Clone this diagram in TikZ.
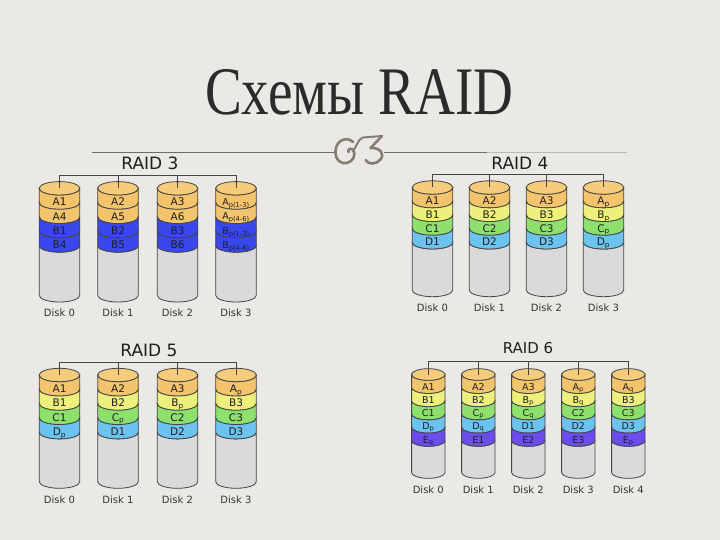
\documentclass[tikz,border=0pt]{standalone}
\usepackage{fontspec}
\setmainfont{DejaVu Sans}
\newfontfamily\titlefont{Liberation Serif}
\usepackage{graphicx}
\definecolor{bgc}{HTML}{EAE9E5}
\definecolor{bge}{HTML}{DDDBD6}
\definecolor{bgk}{HTML}{CCCAC4}
\definecolor{orA}{HTML}{F4C46C}
\definecolor{capc}{HTML}{F6CB7A}
\definecolor{blB}{HTML}{3847EE}
\definecolor{yeB}{HTML}{EEF07C}
\definecolor{grC}{HTML}{8EE06C}
\definecolor{ltD}{HTML}{6CC3EF}
\definecolor{puE}{HTML}{6B4DEE}
\definecolor{bodyc}{HTML}{DADADA}
\definecolor{dlc}{HTML}{454545}
\definecolor{ornc}{HTML}{857D72}
\definecolor{tlc}{HTML}{2B2B2B}
\pgfdeclareradialshading{vig}{\pgfpoint{0bp}{0bp}}{color(0bp)=(bgc); color(45bp)=(bgc); color(50bp)=(bge); color(72bp)=(bgk)}
\newcommand\ps[1]{\textsubscript{#1}}
\def\bfs{10.5}
\tikzset{
  dline/.style={draw=dlc,line width=0.8pt},
  conn/.style={draw=dlc,line width=0.8pt},
  blab/.style={inner sep=0pt,font=\fontsize{\bfs}{\bfs}\selectfont,text=black!88,text height=0.72*\bfs pt,text depth=0pt},
  dlab/.style={inner sep=0pt,font=\fontsize{10}{10}\selectfont,text=black!80},
  ptitle/.style={inner sep=0pt,font=\fontsize{17}{17}\selectfont,text=black!88},
  orn/.style={draw=ornc,line width=2.6pt,line cap=round,line join=round},
  tline/.style={draw=gray!85!black,line width=1.1pt}
}
\newcommand\rdisk[4]{%
 \def\nb{0}%
 \foreach \cc/\ll [count=\ii] in {#4}{\xdef\nb{\ii}}%
 \pgfmathsetmacro\ybody{\ryz+\nb*\rh}%
 \draw[dline,fill=bodyc] (#2-\ra,-\ybody) -- (#2-\ra,-\ryb) arc[start angle=180,end angle=360,x radius=\ra,y radius=\rb] -- (#2+\ra,-\ybody) arc[start angle=0,end angle=-180,x radius=\ra,y radius=\rb] -- cycle;
 \foreach \cc/\ll [count=\ii from 0] in {#4}{%
   \pgfmathsetmacro\yt{\ryz+\ii*\rh}%
   \pgfmathsetmacro\ybn{\yt+\rh}%
   \pgfmathsetmacro\ym{\yt+\rh/2+\rb}%
   \draw[dline,fill=\cc] (#2-\ra,-\yt) -- (#2-\ra,-\ybn) arc[start angle=180,end angle=360,x radius=\ra,y radius=\rb] -- (#2+\ra,-\yt) arc[start angle=0,end angle=-180,x radius=\ra,y radius=\rb] -- cycle;
   \node[blab] (#1b\ii) at (#2,-\ym) {\ll};
 }%
 \draw[dline,fill=capc] (#2,-\ryz) ellipse[x radius=\ra,y radius=\rb];
 \coordinate (#1) at (#2,-\ryz);
 \node[dlab] (#1l) at (#2,-\rly) {Disk #3};
}
\begin{document}
\begin{tikzpicture}[x=1pt,y=1pt]
\useasboundingbox (0,0) rectangle (720,-540);
\fill[shading=vig] (0,0) rectangle (720,-540);

% title
\node[inner sep=0pt,anchor=base west,text=tlc] (title) at (205,-115) {\resizebox{308pt}{45pt}{\titlefont\fontsize{60}{60}\selectfont Схемы RAID}};

% template line with ornament
\coordinate (tl1) at (92,-152.5);
\coordinate (tl2) at (335,-152.5);
\coordinate (tl3) at (384,-152.5);
\coordinate (tl4) at (487,-152.5);
\coordinate (tl5) at (627,-152.5);
\draw[tline] (tl1) -- (tl2);
\draw[tline] (tl3) -- (tl4);
\draw[tline,draw=gray!55] (tl4) -- (tl5);
% "C" part
\draw[orn] (353,-142) .. controls (347,-136) and (336,-140) .. (335.5,-151)
  .. controls (335,-160) and (341,-164.5) .. (347,-163)
  .. controls (353,-161.5) and (356,-155) .. (353.5,-150.5)
  .. controls (351,-147) and (347.5,-149) .. (348.5,-152);
% link to the "3"
\draw[orn,line width=2pt] (353,-151) .. controls (357,-146) and (358,-139) .. (363,-137.5) -- (382,-136);
% "3" part
\draw[orn] (382,-136) -- (370.5,-148) .. controls (380,-147.5) and (385,-153.5) .. (380.5,-159.5)
  .. controls (376.5,-164.5) and (368.5,-165) .. (365.5,-160);

% ---------- RAID 3
\def\ra{20.3}\def\rb{6.7}\def\rh{14.3}\def\ryz{188.3}\def\ryb{295.3}\def\rly{313}
\rdisk{r3d0}{59.5}{0}{orA/A1,orA/A4,blB/B1,blB/B4}
\rdisk{r3d1}{118}{1}{orA/A2,orA/A5,blB/B2,blB/B5}
\rdisk{r3d2}{177.5}{2}{orA/A3,orA/A6,blB/B3,blB/B6}
{\def\bfs{9.5}\rdisk{r3d3}{236}{3}{orA/A\ps{p(1-3)},orA/A\ps{p(4-6)},blB/B\ps{p(1-3)},blB/B\ps{p(4-6)}}}
\node[ptitle] (r3t) at (150,-163) {RAID 3};
\coordinate (r3k0) at (59.5,-175);
\coordinate (r3k1) at (118,-175);
\coordinate (r3k2) at (177.5,-175);
\coordinate (r3k3) at (236,-175);
\draw[conn] (r3k0) -- (r3k3);
\foreach \i in {0,...,3}{\draw[conn] (r3k\i) -- (r3d\i);}

% ---------- RAID 4
\def\ra{20.3}\def\rb{6.7}\def\rh{13.7}\def\ryz{187.5}\def\ryb{290}\def\rly{308}
\rdisk{r4d0}{432.5}{0}{orA/A1,yeB/B1,grC/C1,ltD/D1}
\rdisk{r4d1}{489.5}{1}{orA/A2,yeB/B2,grC/C2,ltD/D2}
\rdisk{r4d2}{546.5}{2}{orA/A3,yeB/B3,grC/C3,ltD/D3}
\rdisk{r4d3}{603.5}{3}{orA/A\ps{p},yeB/B\ps{p},grC/C\ps{p},ltD/D\ps{p}}
\node[ptitle] (r4t) at (520,-163) {RAID 4};
\coordinate (r4k0) at (432.5,-174.3);
\coordinate (r4k1) at (489.5,-174.3);
\coordinate (r4k2) at (546.5,-174.3);
\coordinate (r4k3) at (603.5,-174.3);
\draw[conn] (r4k0) -- (r4k3);
\foreach \i in {0,...,3}{\draw[conn] (r4k\i) -- (r4d\i);}

% ---------- RAID 5
\def\ra{20.3}\def\rb{6.7}\def\rh{14.3}\def\ryz{375}\def\ryb{481.6}\def\rly{500}
\rdisk{r5d0}{59.5}{0}{orA/A1,yeB/B1,grC/C1,ltD/D\ps{p}}
\rdisk{r5d1}{118}{1}{orA/A2,yeB/B2,grC/C\ps{p},ltD/D1}
\rdisk{r5d2}{177.5}{2}{orA/A3,yeB/B\ps{p},grC/C2,ltD/D2}
\rdisk{r5d3}{236}{3}{orA/A\ps{p},yeB/B3,grC/C3,ltD/D3}
\node[ptitle] (r5t) at (149,-350) {RAID 5};
\coordinate (r5k0) at (59.5,-362.3);
\coordinate (r5k1) at (118,-362.3);
\coordinate (r5k2) at (177.5,-362.3);
\coordinate (r5k3) at (236,-362.3);
\draw[conn] (r5k0) -- (r5k3);
\foreach \i in {0,...,3}{\draw[conn] (r5k\i) -- (r5d\i);}

% ---------- RAID 6
\def\bfs{9.5}
\def\ra{16.7}\def\rb{5.8}\def\rh{13.2}\def\ryz{374.5}\def\ryb{472.5}\def\rly{490}
\rdisk{r6d0}{428.3}{0}{orA/A1,yeB/B1,grC/C1,ltD/D\ps{p},puE/E\ps{q}}
\rdisk{r6d1}{478.3}{1}{orA/A2,yeB/B2,grC/C\ps{p},ltD/D\ps{q},puE/E1}
\rdisk{r6d2}{528.3}{2}{orA/A3,yeB/B\ps{p},grC/C\ps{q},ltD/D1,puE/E2}
\rdisk{r6d3}{578.3}{3}{orA/A\ps{p},yeB/B\ps{q},grC/C2,ltD/D2,puE/E3}
\rdisk{r6d4}{628.3}{4}{orA/A\ps{q},yeB/B3,grC/C3,ltD/D3,puE/E\ps{p}}
\node[ptitle,font=\fontsize{15}{15}\selectfont] (r6t) at (528,-348.5) {RAID 6};
\coordinate (r6k0) at (428.3,-361);
\coordinate (r6k1) at (478.3,-361);
\coordinate (r6k2) at (528.3,-361);
\coordinate (r6k3) at (578.3,-361);
\coordinate (r6k4) at (628.3,-361);
\draw[conn] (r6k0) -- (r6k4);
\foreach \i in {0,...,4}{\draw[conn] (r6k\i) -- (r6d\i);}
\end{tikzpicture}
\end{document}
